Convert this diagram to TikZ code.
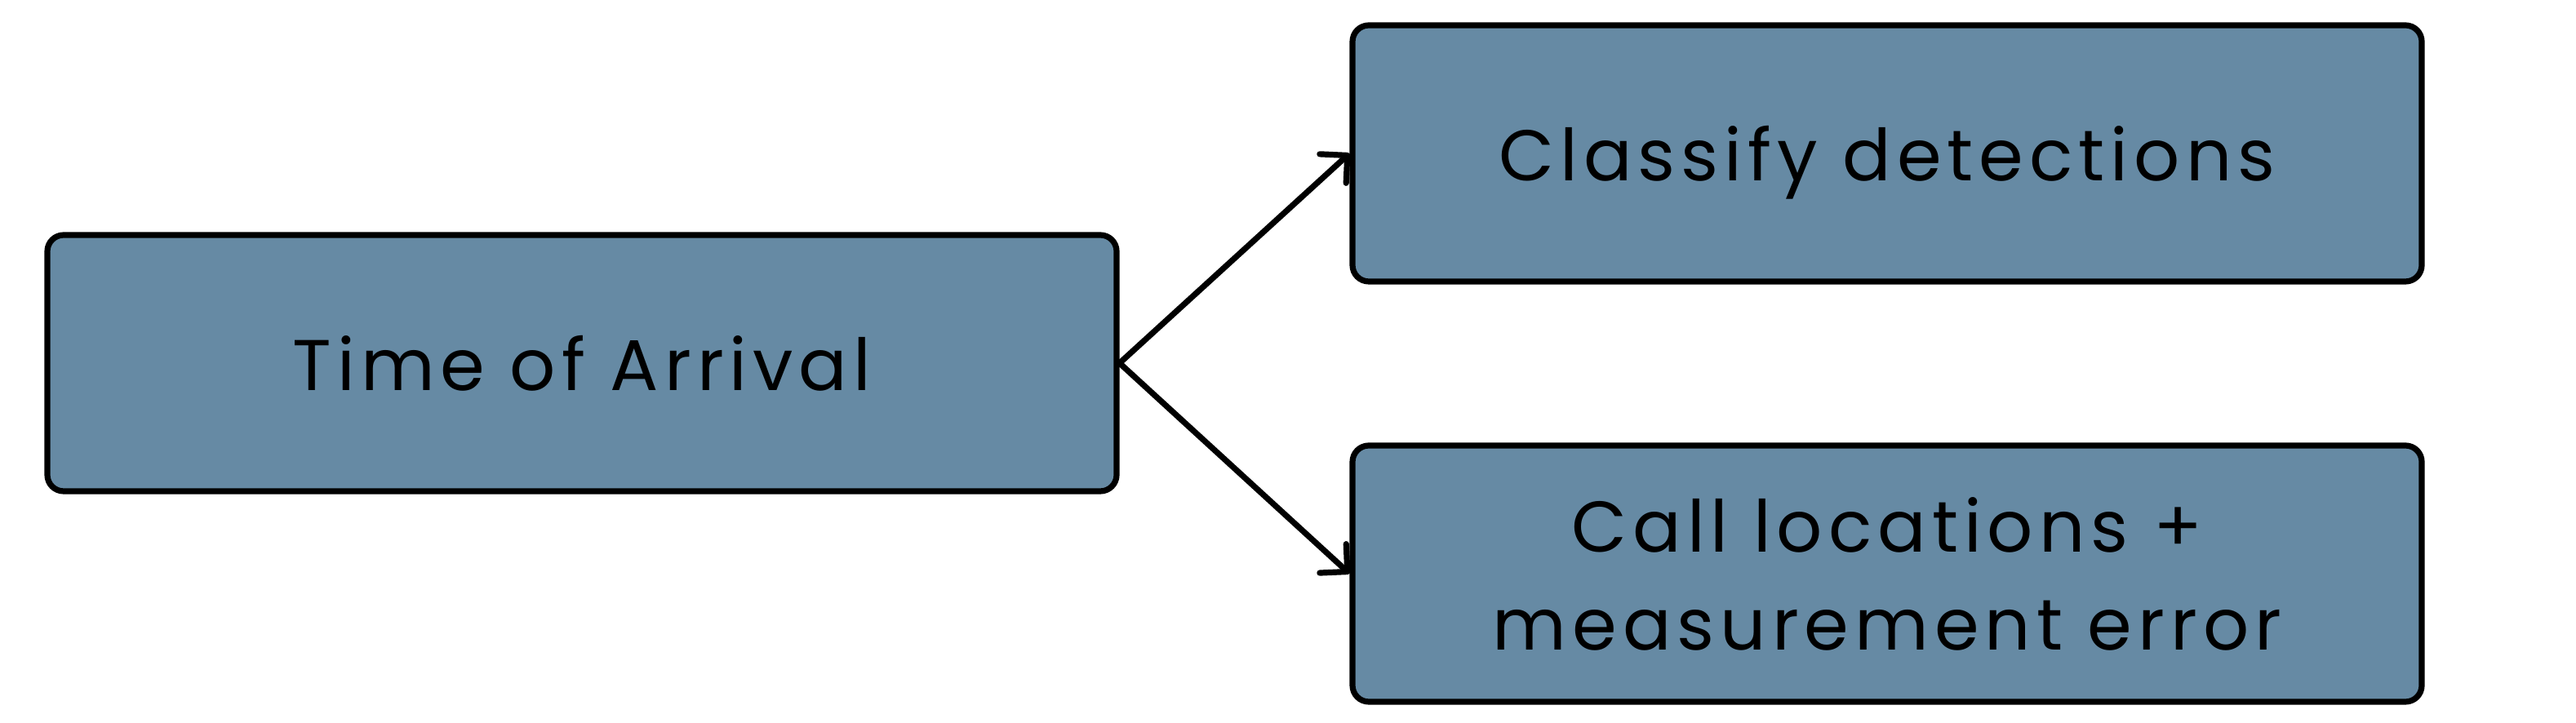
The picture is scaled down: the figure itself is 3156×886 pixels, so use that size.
\documentclass[tikz,border=0pt]{standalone}
\usepackage{fontspec}
\usepackage{xcolor}
\usetikzlibrary{arrows.meta}
\setmainfont[LetterSpace=8]{Poppins}
\definecolor{boxblue}{HTML}{668AA4}

\begin{document}
\begin{tikzpicture}[x=0.25pt, y=0.25pt,
  stepbox/.style={draw=black, line width=1.8pt, fill=boxblue, rounded corners=5pt,
    minimum width=327.5pt, minimum height=78.5pt, text depth=0pt, align=center,
    font=\fontsize{22}{30}\selectfont},
  link/.style={line width=1.8pt, line cap=round, -{Straight Barb[length=6pt, width=12pt, line join=round, line cap=round]}}]
\useasboundingbox (0, 0) rectangle (3156, 886);
% Kästen
\node[stepbox] (toa) at (713, 441) {Time of Arrival};
\node[stepbox] (classify) at (2312, 698) {Classify detections};
\node[stepbox] (calls) at (2312, 183) {Call locations +\\measurement error};
% Pfeile
\draw[link] (toa.east) -- (classify.west);
\draw[link] (toa.east) -- (calls.west);
\end{tikzpicture}
\end{document}
